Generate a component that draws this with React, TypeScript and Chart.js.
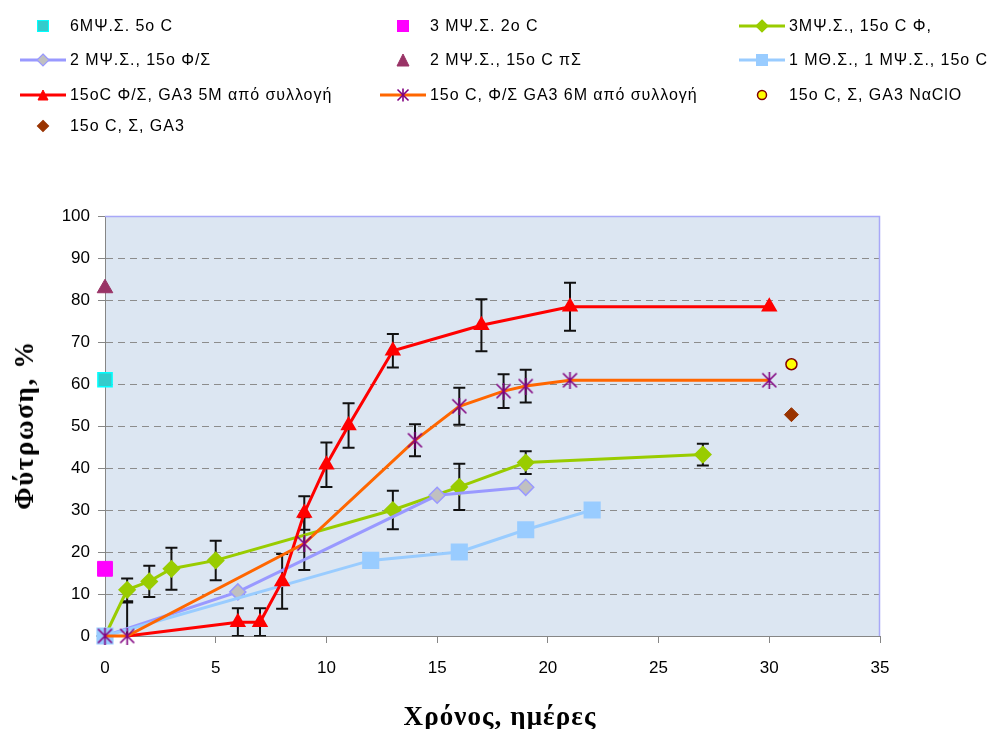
import React, { useEffect, useRef } from "react";
import { Chart, registerables } from "chart.js";

Chart.register(...registerables);

// ---------- data ----------
const xTicksMax = 35;
const yTicksMax = 100;

const cyanLabel = "6MΨ.Σ. 5o C";
const cyanDays = [0];
const cyanGerm = [61];

const magentaLabel = "3 MΨ.Σ. 2o C";
const magentaDays = [0];
const magentaGerm = [16];

const greenLabel = "3MΨ.Σ., 15o C Φ,";
const greenDays = [0, 1, 2, 3, 5, 13, 16, 19, 27];
const greenGerm = [0, 11, 13, 16, 18, 30, 35.5, 41.3, 43.2];
const greenErr = [0, 2.7, 3.7, 5, 4.7, 4.6, 5.5, 2.7, 2.6];

const lavLabel = "2 MΨ.Σ., 15o Φ/Σ";
const lavDays = [0, 6, 15, 19];
const lavGerm = [0, 10.5, 33.5, 35.4];

const maroonLabel = "2 MΨ.Σ., 15o C πΣ";
const maroonDays = [0];
const maroonGerm = [82.8];

const blueLabel = "1 MΘ.Σ., 1 MΨ.Σ., 15o C";
const blueDays = [0, 12, 16, 19, 22];
const blueGerm = [0, 18, 20, 25.3, 30];

const redLabel = "15oC Φ/Σ, GA3 5M από συλλογή";
const redDays = [1, 6, 7, 8, 9, 10, 11, 13, 17, 21, 30];
const redGerm = [0, 3.3, 3.3, 13, 29.3, 40.8, 50.1, 67.9, 74, 78.4, 78.4];
const redErr = [0, 3.3, 3.3, 6.5, 4, 5.3, 5.3, 4, 6.2, 5.7, 0];

const orangeLabel = "15o C, Φ/Σ GA3 6M από συλλογή";
const orangeDays = [0, 1, 9, 14, 16, 18, 19, 21, 30];
const orangeGerm = [0, 0, 22, 46.6, 54.7, 58.3, 59.5, 60.9, 60.9];
const orangeErr = [0, 8, 6.3, 3.8, 4.4, 4, 3.9, 0, 0];

const yellowLabel = "15o C, Σ, GA3 ΝαClO";
const yellowDays = [31];
const yellowGerm = [64.7];

const brownLabel = "15o C, Σ, GA3";
const brownDays = [31];
const brownGerm = [52.7];

const xTitle = "Χρόνος, ημέρες";
const yTitle = "Φύτρωση, %";

// ---------- helpers ----------
const pts = (xs: number[], ys: number[]) => xs.map((x, i) => ({ x, y: ys[i] }));

function makeStar(color: string, size: number) {
  const c = document.createElement("canvas");
  c.width = size;
  c.height = size;
  const g = c.getContext("2d")!;
  g.strokeStyle = color;
  g.lineWidth = 1.6;
  g.beginPath();
  g.moveTo(1.5, 1.5);
  g.lineTo(size - 1.5, size - 1.5);
  g.moveTo(size - 1.5, 1.5);
  g.lineTo(1.5, size - 1.5);
  g.moveTo(size / 2, 0);
  g.lineTo(size / 2, size);
  g.stroke();
  return c;
}

const plotBg = {
  id: "plotBg",
  beforeDraw(chart: any) {
    const { ctx, chartArea } = chart;
    const { left, top, right, bottom } = chartArea;
    ctx.save();
    ctx.fillStyle = "rgb(220,230,242)";
    ctx.fillRect(left, top, right - left, bottom - top);
    ctx.restore();
  },
  beforeDatasetsDraw(chart: any) {
    const { ctx, chartArea } = chart;
    const { left, top, right, bottom } = chartArea;
    ctx.save();
    ctx.strokeStyle = "#A8A8F8";
    ctx.lineWidth = 1.5;
    ctx.beginPath();
    ctx.moveTo(left, top + 0.5);
    ctx.lineTo(right - 0.5, top + 0.5);
    ctx.lineTo(right - 0.5, bottom);
    ctx.stroke();
    ctx.restore();
  },
};

const errorBars = {
  id: "errorBars",
  beforeDatasetsDraw(chart: any) {
    const { ctx, chartArea, scales } = chart;
    const xs = scales.x;
    const ys = scales.y;
    ctx.save();
    ctx.beginPath();
    ctx.rect(chartArea.left, chartArea.top - 20, chartArea.right - chartArea.left, chartArea.bottom - chartArea.top + 20.5);
    ctx.clip();
    ctx.strokeStyle = "#111";
    ctx.lineWidth = 2;
    chart.data.datasets.forEach((ds: any) => {
      if (!ds.errors) return;
      ds.data.forEach((p: any, i: number) => {
        const e = ds.errors[i];
        if (!e) return;
        const px = xs.getPixelForValue(p.x);
        const y1 = ys.getPixelForValue(p.y + e);
        const y2 = ys.getPixelForValue(p.y - e);
        ctx.beginPath();
        ctx.moveTo(px, y1);
        ctx.lineTo(px, y2);
        ctx.moveTo(px - 6, y1);
        ctx.lineTo(px + 6, y1);
        ctx.moveTo(px - 6, y2);
        ctx.lineTo(px + 6, y2);
        ctx.stroke();
      });
    });
    ctx.restore();
  },
};

// ---------- legend ----------
type Mk = "square" | "diamond" | "triangle" | "circle" | "star";
interface LegItem {
  label: string;
  left: number;
  top: number;
  line?: string;
  marker: Mk;
  fill: string;
  stroke: string;
  size: number;
}

function Marker({ it }: { it: LegItem }) {
  const cx = 23;
  const cy = 9;
  const s = it.size;
  let shape: any = null;
  if (it.marker === "square")
    shape = <rect x={cx - s / 2} y={cy - s / 2} width={s} height={s} fill={it.fill} stroke={it.stroke} strokeWidth={1} />;
  else if (it.marker === "diamond")
    shape = (
      <polygon
        points={`${cx},${cy - s / 2} ${cx + s / 2},${cy} ${cx},${cy + s / 2} ${cx - s / 2},${cy}`}
        fill={it.fill}
        stroke={it.stroke}
        strokeWidth={1.2}
      />
    );
  else if (it.marker === "triangle")
    shape = (
      <polygon
        points={`${cx},${cy - s / 2} ${cx + s / 2},${cy + s / 2} ${cx - s / 2},${cy + s / 2}`}
        fill={it.fill}
        stroke={it.stroke}
        strokeWidth={1}
      />
    );
  else if (it.marker === "circle")
    shape = <circle cx={cx} cy={cy} r={s / 2} fill={it.fill} stroke={it.stroke} strokeWidth={1.5} />;
  else
    shape = (
      <g stroke={it.stroke} strokeWidth={1.6}>
        <line x1={cx - s / 2} y1={cy - s / 2} x2={cx + s / 2} y2={cy + s / 2} />
        <line x1={cx + s / 2} y1={cy - s / 2} x2={cx - s / 2} y2={cy + s / 2} />
        <line x1={cx} y1={cy - s / 2 - 1} x2={cx} y2={cy + s / 2 + 1} />
      </g>
    );
  return (
    <svg width={46} height={18} style={{ display: "block" }}>
      {it.line ? <line x1={0} y1={cy} x2={46} y2={cy} stroke={it.line} strokeWidth={3} /> : null}
      {shape}
    </svg>
  );
}

const colX = [20, 380, 739];
const rowY = [26, 60, 95, 126];

const legendItems: LegItem[] = [
  { label: cyanLabel, left: colX[0], top: rowY[0], marker: "square", fill: "#33CCCC", stroke: "#00FFFF", size: 11 },
  { label: magentaLabel, left: colX[1], top: rowY[0], marker: "square", fill: "#FF00FF", stroke: "#FF00FF", size: 11 },
  { label: greenLabel, left: colX[2], top: rowY[0], line: "#99CC00", marker: "diamond", fill: "#99CC00", stroke: "#99CC00", size: 12 },
  { label: lavLabel, left: colX[0], top: rowY[1], line: "#9999FF", marker: "diamond", fill: "#C0C0C0", stroke: "#9999FF", size: 12 },
  { label: maroonLabel, left: colX[1], top: rowY[1], marker: "triangle", fill: "#993366", stroke: "#993366", size: 12 },
  { label: blueLabel, left: colX[2], top: rowY[1], line: "#99CCFF", marker: "square", fill: "#99CCFF", stroke: "#99CCFF", size: 11 },
  { label: redLabel, left: colX[0], top: rowY[2], line: "#FF0000", marker: "triangle", fill: "#FF0000", stroke: "#FF0000", size: 10 },
  { label: orangeLabel, left: colX[1], top: rowY[2], line: "#FF6600", marker: "star", fill: "#800080", stroke: "#800080", size: 11 },
  { label: yellowLabel, left: colX[2], top: rowY[2], marker: "circle", fill: "#FFFF00", stroke: "#800000", size: 9 },
  { label: brownLabel, left: colX[0], top: rowY[3], marker: "diamond", fill: "#993300", stroke: "#993300", size: 11 },
];

const titleStyle: any = {
  position: "absolute",
  fontFamily: "'Liberation Serif', 'Times New Roman', serif",
  fontWeight: "bold",
  fontSize: 27,
  color: "#000",
  whiteSpace: "nowrap",
  lineHeight: "30px",
};

export default function App() {
  const ref = useRef<HTMLCanvasElement | null>(null);

  useEffect(() => {
    if (!ref.current) return;
    const star = makeStar("#800080", 17);
    const common = { clip: false as any, showLine: false };
    const lineDs = (extra: any) => ({ ...common, showLine: true, borderWidth: 3, tension: 0, ...extra });

    const datasets: any[] = [
      { ...common, label: cyanLabel, data: pts(cyanDays, cyanGerm), pointStyle: "rect", pointRadius: 10, backgroundColor: "#33CCCC", borderColor: "#00FFFF", pointBorderWidth: 1.5 },
      { ...common, label: magentaLabel, data: pts(magentaDays, magentaGerm), pointStyle: "rect", pointRadius: 10.5, backgroundColor: "#FF00FF", borderColor: "#FF00FF", pointBorderWidth: 1 },
      lineDs({ label: greenLabel, data: pts(greenDays, greenGerm), errors: greenErr, borderColor: "#99CC00", pointStyle: "rectRot", pointRadius: 7, pointBackgroundColor: "#99CC00", pointBorderColor: "#99CC00" }),
      lineDs({ label: lavLabel, data: pts(lavDays, lavGerm), borderColor: "#9999FF", pointStyle: "rectRot", pointRadius: 8, pointBackgroundColor: "#C0C0C0", pointBorderColor: "#9999FF", pointBorderWidth: 1.5 }),
      { ...common, label: maroonLabel, data: pts(maroonDays, maroonGerm), pointStyle: "triangle", pointRadius: 9, backgroundColor: "#993366", borderColor: "#993366", pointBorderWidth: 1 },
      lineDs({ label: blueLabel, data: pts(blueDays, blueGerm), borderColor: "#99CCFF", pointStyle: "rect", pointRadius: 10, pointBackgroundColor: "#99CCFF", pointBorderColor: "#99CCFF" }),
      lineDs({ label: redLabel, data: pts(redDays, redGerm), errors: redErr, borderColor: "#FF0000", pointStyle: "triangle", pointRadius: (c: any) => (c.dataIndex === 0 ? 0 : 6.5), pointBackgroundColor: "#FF0000", pointBorderColor: "#FF0000" }),
      lineDs({ label: orangeLabel, data: pts(orangeDays, orangeGerm), errors: orangeErr, borderColor: "#FF6600", pointStyle: star, pointRadius: 9 }),
      { ...common, label: yellowLabel, data: pts(yellowDays, yellowGerm), pointStyle: "circle", pointRadius: 5.5, backgroundColor: "#FFFF00", borderColor: "#800000", pointBorderWidth: 1.5 },
      { ...common, label: brownLabel, data: pts(brownDays, brownGerm), pointStyle: "rectRot", pointRadius: 7, backgroundColor: "#993300", borderColor: "#993300", pointBorderWidth: 1 },
    ];
    datasets.forEach((d, i) => (d.order = 20 - i));

    const tickFont = { family: "'Liberation Sans', Arial, sans-serif", size: 17 };

    const chart = new Chart(ref.current, {
      type: "scatter",
      data: { datasets },
      plugins: [plotBg, errorBars],
      options: {
        animation: false,
        responsive: false,
        events: [],
        layout: { padding: { left: 0, right: 115, top: 216, bottom: 0 } },
        plugins: { legend: { display: false }, tooltip: { enabled: false } },
        scales: {
          x: {
            type: "linear",
            min: 0,
            max: xTicksMax,
            afterFit: (s: any) => {
              s.height = 93;
            },
            ticks: { stepSize: 5, color: "#000", font: tickFont, padding: 15 },
            grid: { drawOnChartArea: false, drawTicks: true, tickLength: 7, tickColor: "#868686" },
            border: { color: "#868686", width: 1 },
          },
          y: {
            type: "linear",
            min: 0,
            max: yTicksMax,
            afterFit: (s: any) => {
              s.width = 105;
            },
            ticks: { stepSize: 10, color: "#000", font: tickFont, padding: 8 },
            grid: {
              color: (c: any) => (c.tick && (c.tick.value === 0 || c.tick.value === 100) ? "rgba(0,0,0,0)" : "#8C8C8C"),
              lineWidth: 1,
              drawTicks: true,
              tickLength: 7,
              tickColor: "#868686",
            },
            border: { color: "#868686", width: 1, dash: [7, 5] },
          },
        },
      },
    });
    return () => chart.destroy();
  }, []);

  return (
    <div style={{ position: "absolute", left: 0, top: 0, width: 995, height: 729, background: "#fff", overflow: "hidden" }}>
      <canvas ref={ref} width={995} height={729} style={{ position: "absolute", left: 0, top: 0, width: 995, height: 729 }} />
      {legendItems.map((it) => (
        <div
          key={it.label}
          style={{
            position: "absolute",
            left: it.left,
            top: it.top - 9,
            height: 18,
            display: "flex",
            alignItems: "center",
            whiteSpace: "nowrap",
            fontFamily: "'Liberation Sans', Arial, sans-serif",
            fontSize: 16,
            letterSpacing: "0.95px",
            color: "#000",
          }}
        >
          <Marker it={it} />
          <span style={{ marginLeft: 4, lineHeight: "18px" }}>{it.label}</span>
        </div>
      ))}
      <div style={{ ...titleStyle, left: 300, width: 400, top: 701, textAlign: "center", letterSpacing: "1.1px" }}>{xTitle}</div>
      <div
        style={{
          ...titleStyle,
          left: 24,
          top: 425,
          letterSpacing: "1.6px",
          transform: "translate(-50%, -50%) rotate(-90deg)",
        }}
      >
        {yTitle}
      </div>
    </div>
  );
}
